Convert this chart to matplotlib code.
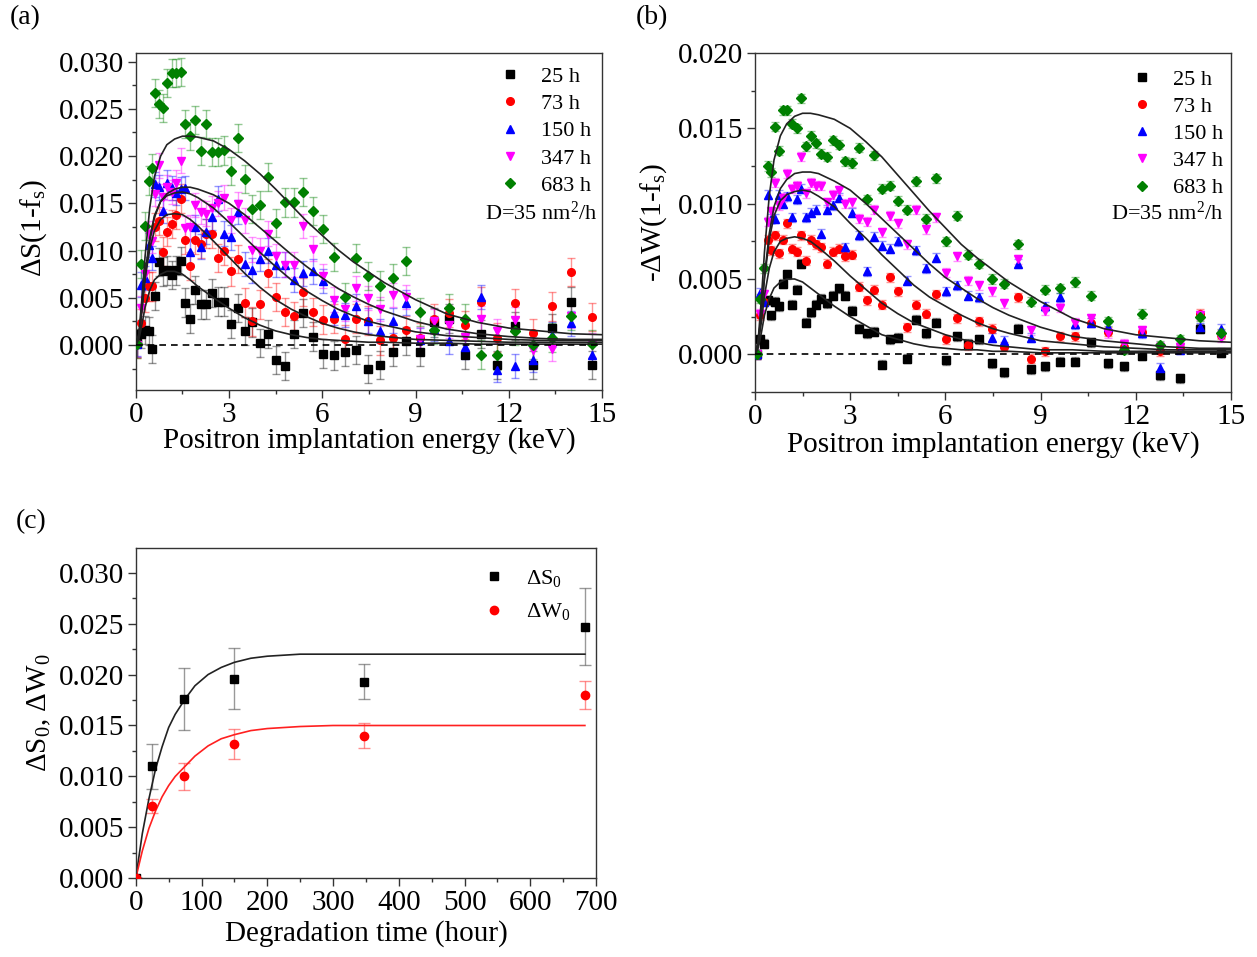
import matplotlib
matplotlib.use("Agg")
import matplotlib.pyplot as plt
from matplotlib.ticker import MultipleLocator, FormatStrFormatter

plt.rcParams['font.family'] = ['Liberation Serif', 'DejaVu Serif']
plt.rcParams['mathtext.fontset'] = 'custom'
plt.rcParams['mathtext.rm'] = 'Liberation Serif'
plt.rcParams['mathtext.it'] = 'Liberation Serif:italic'
plt.rcParams['mathtext.default'] = 'regular'

# positron implantation energies (keV), shared by panels (a) and (b)
energy = [0.05, 0.17, 0.29, 0.41, 0.52, 0.62, 0.75, 0.87, 1.02, 1.16,
          1.31, 1.45, 1.60, 1.76, 1.92, 2.09, 2.27, 2.46, 2.65, 2.85,
          3.07, 3.28, 3.52, 3.75, 4.01, 4.25, 4.52, 4.80, 5.09, 5.39,
          5.70, 6.03, 6.37, 6.72, 7.07, 7.47, 7.86, 8.28, 8.70, 9.14,
          9.60, 10.09, 10.59, 11.11, 11.62, 12.19, 12.77, 13.38, 14.01, 14.67]

labels = ['25 h', '73 h', '150 h', '347 h', '683 h']
colors = ['#000000', '#ff0000', '#0000ff', '#ff00ff', '#008000']
markers = ['s', 'o', '^', 'v', 'D']

# panel (a): dS(1-fs)
ds_25 = [0.0002, 0.0012, 0.0016, 0.0015, -0.0004, 0.0052, 0.0088, 0.0078, 0.0079, 0.0074,
         0.0079, 0.0089, 0.0045, 0.0028, 0.0058, 0.0043, 0.0043, 0.0055, 0.0046, 0.0046,
         0.0022, 0.0039, 0.0015, 0.0024, 0.0002, 0.0012, -0.0016, -0.0022, 0.0012, 0.0034,
         0.0009, -0.0009, -0.0011, -0.0007, -0.0005, -0.0025, -0.0021, -0.0007, 0.0004, -0.0007,
         0.0024, 0.0028, -0.0010, 0.0012, -0.0021, 0.0020, -0.0021, 0.0018, 0.0046, -0.0021]
ds_73 = [0.0001, 0.0023, 0.0050, 0.0062, 0.0062, 0.0125, 0.0131, 0.0099, 0.0120, 0.0128,
         0.0138, 0.0155, 0.0111, 0.0084, 0.0111, 0.0107, 0.0118, 0.0118, 0.0092, 0.0100,
         0.0078, 0.0091, 0.0045, 0.0025, 0.0043, 0.0076, 0.0051, 0.0035, 0.0031, 0.0056,
         0.0035, 0.0027, 0.0028, 0.0006, 0.0028, 0.0026, 0.0005, 0.0008, 0.0016, 0.0008,
         0.0028, 0.0034, 0.0021, 0.0046, 0.0008, 0.0044, 0.0013, 0.0041, 0.0077, 0.0030]
ds_150 = [0.0001, 0.0064, 0.0071, 0.0106, 0.0092, 0.0170, 0.0167, 0.0142, 0.0172, 0.0166,
          0.0161, 0.0165, 0.0166, 0.0099, 0.0125, 0.0104, 0.0120, 0.0135, 0.0155, 0.0118,
          0.0114, 0.0141, 0.0086, 0.0079, 0.0091, 0.0100, 0.0085, 0.0085, 0.0069, 0.0076,
          0.0078, 0.0068, 0.0034, 0.0032, 0.0041, 0.0026, 0.0015, 0.0026, 0.0045, 0.0005,
          0.0017, 0.0004, -0.0002, 0.0051, -0.0026, -0.0022, -0.0016, 0.0011, 0.0023, -0.0011]
ds_347 = [0.0000, 0.0039, 0.0075, 0.0118, 0.0110, 0.0160, 0.0190, 0.0157, 0.0167, 0.0162,
          0.0172, 0.0195, 0.0124, 0.0125, 0.0148, 0.0141, 0.0139, 0.0145, 0.0150, 0.0156,
          0.0132, 0.0149, 0.0132, 0.0101, 0.0100, 0.0118, 0.0094, 0.0085, 0.0085, 0.0126,
          0.0102, 0.0073, 0.0048, 0.0038, 0.0060, 0.0050, 0.0038, 0.0053, 0.0051, 0.0006,
          0.0025, 0.0021, 0.0009, 0.0028, 0.0015, 0.0027, -0.0005, -0.0004, 0.0031, 0.0000]
ds_683 = [0.0001, 0.0086, 0.0126, 0.0174, 0.0187, 0.0267, 0.0255, 0.0251, 0.0277, 0.0288,
          0.0288, 0.0289, 0.0234, 0.0221, 0.0238, 0.0205, 0.0234, 0.0204, 0.0204, 0.0206,
          0.0184, 0.0219, 0.0176, 0.0144, 0.0148, 0.0178, 0.0129, 0.0151, 0.0151, 0.0162,
          0.0142, 0.0123, 0.0093, 0.0051, 0.0092, 0.0073, 0.0063, 0.0071, 0.0089, 0.0035,
          0.0016, 0.0039, 0.0028, -0.0010, -0.0011, 0.0015, 0.0000, 0.0008, 0.0031, 0.0001]
ds_err = [0.0015, 0.0015, 0.0013, 0.0013, 0.0015]

# panel (b): -dW(1-fs)
dw_25 = [0.0000, 0.0010, 0.0007, 0.0036, 0.0026, 0.0035, 0.0032, 0.0047, 0.0053, 0.0033,
         0.0043, 0.0060, 0.0021, 0.0028, 0.0033, 0.0037, 0.0034, 0.0039, 0.0044, 0.0039,
         0.0029, 0.0017, 0.0014, 0.0015, -0.0007, 0.0010, 0.0011, -0.0003, 0.0023, 0.0014,
         0.0021, -0.0004, 0.0012, 0.0007, 0.0010, -0.0006, -0.0012, 0.0017, -0.0010, -0.0008,
         -0.0005, -0.0005, 0.0008, -0.0006, -0.0008, -0.0001, -0.0014, -0.0016, 0.0017, 0.0001]
dw_73 = [0.0000, 0.0026, 0.0035, 0.0076, 0.0069, 0.0079, 0.0067, 0.0076, 0.0087, 0.0070,
         0.0068, 0.0079, 0.0062, 0.0076, 0.0073, 0.0071, 0.0060, 0.0068, 0.0070, 0.0065,
         0.0066, 0.0045, 0.0036, 0.0043, 0.0033, 0.0051, 0.0042, 0.0018, 0.0033, 0.0027,
         0.0040, 0.0010, 0.0024, 0.0006, 0.0022, 0.0017, 0.0005, 0.0038, -0.0003, 0.0002,
         0.0012, 0.0012, 0.0021, 0.0015, 0.0005, 0.0015, 0.0002, 0.0004, 0.0027, 0.0013]
dw_150 = [0.0000, 0.0041, 0.0035, 0.0106, 0.0090, 0.0090, 0.0106, 0.0100, 0.0105, 0.0091,
          0.0103, 0.0110, 0.0091, 0.0094, 0.0096, 0.0080, 0.0096, 0.0099, 0.0104, 0.0071,
          0.0094, 0.0079, 0.0055, 0.0078, 0.0072, 0.0070, 0.0075, 0.0049, 0.0069, 0.0057,
          0.0064, 0.0042, 0.0046, 0.0039, 0.0038, 0.0011, 0.0009, 0.0060, 0.0011, 0.0032,
          0.0038, 0.0020, 0.0021, 0.0018, 0.0005, 0.0014, -0.0009, 0.0003, 0.0018, 0.0017]
dw_347 = [0.0000, 0.0027, 0.0040, 0.0088, 0.0095, 0.0114, 0.0099, 0.0104, 0.0120, 0.0110,
          0.0112, 0.0131, 0.0107, 0.0114, 0.0112, 0.0112, 0.0101, 0.0106, 0.0109, 0.0100,
          0.0101, 0.0090, 0.0088, 0.0096, 0.0081, 0.0092, 0.0087, 0.0073, 0.0096, 0.0083,
          0.0091, 0.0054, 0.0065, 0.0049, 0.0046, 0.0042, 0.0034, 0.0063, 0.0016, 0.0029,
          0.0031, 0.0021, 0.0024, 0.0014, 0.0007, 0.0016, 0.0005, 0.0005, 0.0026, 0.0011]
dw_683 = [0.0000, 0.0037, 0.0057, 0.0125, 0.0121, 0.0151, 0.0135, 0.0162, 0.0162, 0.0153,
          0.0150, 0.0170, 0.0138, 0.0145, 0.0140, 0.0133, 0.0131, 0.0142, 0.0139, 0.0128,
          0.0127, 0.0137, 0.0103, 0.0132, 0.0110, 0.0112, 0.0102, 0.0096, 0.0115, 0.0090,
          0.0117, 0.0075, 0.0092, 0.0066, 0.0060, 0.0050, 0.0047, 0.0073, 0.0035, 0.0043,
          0.0044, 0.0048, 0.0039, 0.0022, 0.0003, 0.0027, 0.0006, 0.0010, 0.0025, 0.0014]
dw_err = [0.0003, 0.0003, 0.0003, 0.0003, 0.0003]

# fitted curves (D = 35 nm^2/h)
fit_energy = [0, 0.1, 0.2, 0.3, 0.45, 0.6, 0.8, 1.0, 1.25, 1.5, 1.75, 2.0, 2.5, 3.0, 3.5, 4.0,
              4.5, 5.0, 5.5, 6.0, 6.5, 7.0, 7.5, 8.0, 9.0, 10.0, 11.0, 12.0, 13.0, 14.0, 15.0]
fit_ds_25 = [0, 0.0006, 0.0022, 0.0040, 0.0058, 0.0069, 0.0075, 0.0078, 0.0078, 0.0075, 0.0069,
             0.0062, 0.0050, 0.0039, 0.0029, 0.0021, 0.0015, 0.0011, 0.0008, 0.0006, 0.0005,
             0.0004, 0.0003, 0.0003, 0.0002, 0.0002, 0.0001, 0.0001, 0.0001, 0.0001, 0.0001]
fit_ds_73 = [0, 0.0010, 0.0038, 0.0070, 0.0102, 0.0121, 0.0133, 0.0138, 0.0139, 0.0138, 0.0133,
             0.0126, 0.0110, 0.0093, 0.0076, 0.0061, 0.0048, 0.0038, 0.0030, 0.0023, 0.0018,
             0.0014, 0.0011, 0.0009, 0.0006, 0.0005, 0.0004, 0.0003, 0.0003, 0.0003, 0.0003]
fit_ds_150 = [0, 0.0010, 0.0040, 0.0075, 0.0113, 0.0137, 0.0152, 0.0158, 0.0161, 0.0162, 0.0160,
              0.0156, 0.0145, 0.0130, 0.0114, 0.0098, 0.0083, 0.0069, 0.0057, 0.0047, 0.0038,
              0.0031, 0.0025, 0.0021, 0.0014, 0.0010, 0.0008, 0.0006, 0.0005, 0.0005, 0.0005]
fit_ds_347 = [0, 0.0009, 0.0038, 0.0072, 0.0110, 0.0135, 0.0152, 0.0160, 0.0165, 0.0167, 0.0167,
              0.0165, 0.0159, 0.0150, 0.0138, 0.0124, 0.0110, 0.0096, 0.0083, 0.0071, 0.0060,
              0.0051, 0.0043, 0.0036, 0.0025, 0.0017, 0.0012, 0.0009, 0.0007, 0.0006, 0.0006]
fit_ds_683 = [0, 0.0012, 0.0050, 0.0094, 0.0145, 0.0178, 0.0200, 0.0212, 0.0218, 0.0221, 0.0221,
              0.0220, 0.0216, 0.0207, 0.0195, 0.0181, 0.0165, 0.0148, 0.0131, 0.0116, 0.0101,
              0.0088, 0.0077, 0.0066, 0.0048, 0.0033, 0.0024, 0.0018, 0.0015, 0.0012, 0.0011]
fit_dw_25 = [0, 0.0004, 0.0014, 0.0026, 0.0037, 0.0044, 0.0048, 0.0050, 0.0050, 0.0048, 0.0044,
             0.0040, 0.0032, 0.0025, 0.0019, 0.0013, 0.0010, 0.0007, 0.0005, 0.0004, 0.0003,
             0.0003, 0.0002, 0.0002, 0.0001, 0.0001, 0.0001, 0.0001, 0.0001, 0.0001, 0.0001]
fit_dw_73 = [0, 0.0006, 0.0021, 0.0039, 0.0057, 0.0068, 0.0075, 0.0077, 0.0078, 0.0077, 0.0075,
             0.0071, 0.0062, 0.0052, 0.0043, 0.0034, 0.0027, 0.0021, 0.0017, 0.0013, 0.0010,
             0.0008, 0.0006, 0.0005, 0.0003, 0.0003, 0.0002, 0.0002, 0.0002, 0.0002, 0.0002]
fit_dw_150 = [0, 0.0007, 0.0027, 0.0050, 0.0076, 0.0092, 0.0102, 0.0106, 0.0108, 0.0109, 0.0108,
              0.0105, 0.0098, 0.0087, 0.0077, 0.0066, 0.0056, 0.0046, 0.0038, 0.0032, 0.0026,
              0.0021, 0.0017, 0.0014, 0.0009, 0.0007, 0.0005, 0.0004, 0.0003, 0.0003, 0.0003]
fit_dw_347 = [0, 0.0007, 0.0028, 0.0052, 0.0080, 0.0098, 0.0110, 0.0116, 0.0120, 0.0121, 0.0121,
              0.0120, 0.0115, 0.0109, 0.0100, 0.0090, 0.0080, 0.0070, 0.0060, 0.0051, 0.0044,
              0.0037, 0.0031, 0.0026, 0.0018, 0.0012, 0.0009, 0.0007, 0.0005, 0.0004, 0.0004]
fit_dw_683 = [0, 0.0009, 0.0036, 0.0068, 0.0105, 0.0129, 0.0145, 0.0153, 0.0158, 0.0160, 0.0160,
              0.0159, 0.0156, 0.0150, 0.0141, 0.0131, 0.0119, 0.0107, 0.0095, 0.0084, 0.0073,
              0.0064, 0.0056, 0.0048, 0.0035, 0.0024, 0.0017, 0.0013, 0.0011, 0.0009, 0.0008]

# panel (c)
time_h = [0, 25, 73, 150, 347, 683]
s0 = [0.0, 0.0110, 0.0176, 0.0196, 0.0193, 0.0247]
s0_err = [0.0, 0.0022, 0.0030, 0.0030, 0.0017, 0.0038]
w0 = [0.0, 0.0071, 0.0100, 0.0132, 0.0140, 0.0180]
w0_err = [0.0, 0.0007, 0.0013, 0.0015, 0.0012, 0.0014]
fit_time = [0, 10, 20, 30, 40, 50, 60, 75, 90, 110, 130, 150, 175, 200, 250, 300, 400, 500, 600, 683]
fit_s0 = [0, 0.0044, 0.0078, 0.0107, 0.0129, 0.0148, 0.0161, 0.0176, 0.0189, 0.0200,
          0.0207, 0.0212, 0.0216, 0.0218, 0.0220, 0.0220, 0.0220, 0.0220, 0.0220, 0.0220]
fit_w0 = [0, 0.0027, 0.0049, 0.0066, 0.0080, 0.0091, 0.0100, 0.0110, 0.0120, 0.0130,
          0.0137, 0.0141, 0.0145, 0.0147, 0.0149, 0.0150, 0.0150, 0.0150, 0.0150, 0.0150]


def style_axes(ax, xmaj, xmin, ymaj, ymin):
    ax.xaxis.set_major_locator(MultipleLocator(xmaj))
    ax.xaxis.set_minor_locator(MultipleLocator(xmin))
    ax.yaxis.set_major_locator(MultipleLocator(ymaj))
    ax.yaxis.set_minor_locator(MultipleLocator(ymin))
    ax.yaxis.set_major_formatter(FormatStrFormatter('%.3f'))
    ax.tick_params(which='both', direction='out', top=False, right=False,
                   labelsize=21, width=1, color='#333333')
    ax.tick_params(which='major', length=6, pad=2.5)
    ax.tick_params(which='minor', length=3)
    for sp in ax.spines.values():
        sp.set_linewidth(1.0)
        sp.set_color('#333333')


def depth_panel(ax, series, errs, fits, ylim, ylabel, leg_anchor, text_pos):
    for ys, err, col, mk, lab in zip(series, errs, colors, markers, labels):
        ax.errorbar(energy, ys, yerr=err, fmt='none', ecolor=col, alpha=0.42,
                    elinewidth=1, capsize=3, capthick=1, zorder=2)
        ax.plot(energy, ys, ls='none', marker=mk, color=col, ms=5.5 if mk != 'D' else 5,
                label=lab, zorder=3)
    for fy in fits:
        ax.plot(fit_energy, fy, color='#222222', lw=1.2, zorder=4)
    ax.axhline(0, color='black', lw=1.2, ls=(0, (4, 3)), zorder=4)
    ax.set_xlim(0, 15)
    ax.set_ylim(*ylim)
    style_axes(ax, 3, 1.5, 0.005, 0.0025)
    ax.set_xlabel('Positron implantation energy (keV)', fontsize=21)
    ax.set_ylabel(ylabel, fontsize=21)
    ax.legend(loc='upper left', bbox_to_anchor=leg_anchor, frameon=False, fontsize=16,
              handlelength=1.0, handletextpad=0.9, labelspacing=0.30,
              borderpad=0, borderaxespad=0)
    ax.text(text_pos[0], text_pos[1], 'D=35 nm$^2$/h', transform=ax.transAxes,
            ha='right', va='center', fontsize=16)


fig = plt.figure(figsize=(12.57, 9.57), dpi=100)

ax_a = fig.add_axes([0.1080, 0.5925, 0.3710, 0.3521])
depth_panel(ax_a, [ds_25, ds_73, ds_150, ds_347, ds_683], ds_err,
            [fit_ds_25, fit_ds_73, fit_ds_150, fit_ds_347, fit_ds_683],
            (-0.00475, 0.0309), 'ΔS(1-f$_s$)', (0.779, 0.960), (0.989, 0.525))
ax_a.xaxis.set_label_coords(0.5, -0.111)
ax_a.yaxis.set_label_coords(-0.185, 0.48)

ax_b = fig.add_axes([0.6006, 0.5904, 0.3787, 0.3542])
depth_panel(ax_b, [dw_25, dw_73, dw_150, dw_347, dw_683], dw_err,
            [fit_dw_25, fit_dw_73, fit_dw_150, fit_dw_347, fit_dw_683],
            (-0.0025, 0.020), '-ΔW(1-f$_s$)', (0.789, 0.953), (0.983, 0.528))
ax_b.xaxis.set_label_coords(0.5, -0.1165)
ax_b.yaxis.set_label_coords(-0.18, 0.5)

ax_c = fig.add_axes([0.1080, 0.0822, 0.3662, 0.3455])
ax_c.errorbar(time_h, s0, yerr=s0_err, fmt='none', ecolor='#555555', alpha=0.6,
              elinewidth=1, capsize=4, capthick=1)
ax_c.errorbar(time_h, w0, yerr=w0_err, fmt='none', ecolor='#ff4444', alpha=0.6,
              elinewidth=1, capsize=4, capthick=1)
ax_c.plot(fit_time, fit_s0, color='#222222', lw=1.2)
ax_c.plot(fit_time, fit_w0, color='#ff2020', lw=1.2)
ax_c.plot(time_h, s0, ls='none', marker='s', ms=6, color='black', label='ΔS$_0$', zorder=3)
ax_c.plot(time_h, w0, ls='none', marker='o', ms=6, color='red', label='ΔW$_0$', zorder=3)
ax_c.set_xlim(0, 700)
ax_c.set_ylim(0, 0.03245)
style_axes(ax_c, 100, 50, 0.005, 0.0025)
ax_c.set_xlabel('Degradation time (hour)', fontsize=21)
ax_c.set_ylabel('ΔS$_0$, ΔW$_0$', fontsize=21)
ax_c.xaxis.set_label_coords(0.5, -0.125)
ax_c.yaxis.set_label_coords(-0.179, 0.5)
ax_c.legend(loc='upper left', bbox_to_anchor=(0.755, 0.9395), frameon=False, fontsize=16,
            handlelength=1.0, handletextpad=0.9, labelspacing=0.575,
            borderpad=0, borderaxespad=0)

fig.text(0.008, 0.982, '(a)', fontsize=20, va='center')
fig.text(0.506, 0.982, '(b)', fontsize=20, va='center')
fig.text(0.0127, 0.4545, '(c)', fontsize=20, va='center')

fig.savefig('out.png', dpi=100)
